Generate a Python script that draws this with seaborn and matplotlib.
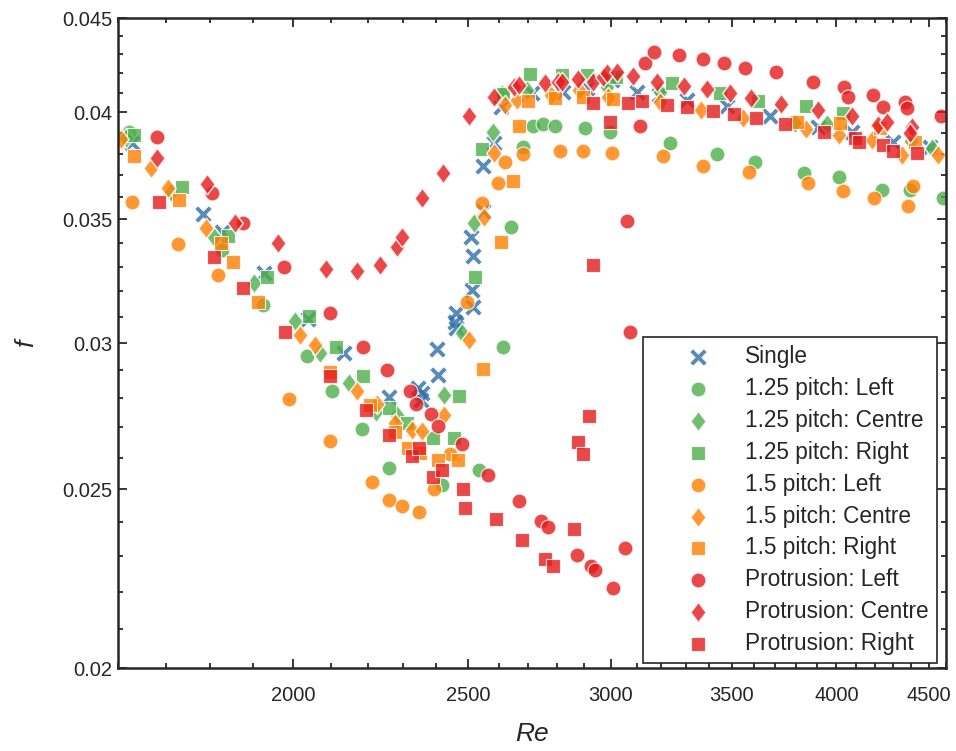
import matplotlib
matplotlib.use('Agg')
import matplotlib.pyplot as plt
from matplotlib.path import Path
from matplotlib.ticker import FixedLocator, FixedFormatter, NullFormatter
import seaborn as sns
import pandas as pd

# --- data (Re, f) ---
single_re = [1629, 1784, 1827, 1928, 2039, 2135, 2262, 2347, 2359, 2355, 2402, 2407, 2462, 2459, 2462,
             2510, 2515, 2512, 2517, 2548, 2550, 2583, 2607, 2713, 2823, 2910, 3003, 3101, 3189, 3305,
             3478, 3676, 3907, 4079, 4302, 4506]
single_f = [0.0385, 0.03524, 0.03447, 0.03273, 0.03092, 0.02962, 0.02806, 0.02836, 0.02818, 0.02795,
            0.02977, 0.02883, 0.03114, 0.03081, 0.03056, 0.03423, 0.03345, 0.03205, 0.03137, 0.03742,
            0.03535, 0.0385, 0.04029, 0.04096, 0.04105, 0.04122, 0.04165, 0.04105, 0.04088, 0.04063,
            0.04033, 0.03982, 0.0393, 0.03902, 0.03857, 0.03833]

p125_left_re = [1622, 1827, 1926, 2036, 2102, 2184, 2261, 2420, 2534, 2615, 2641, 2681, 2718, 2751,
                2793, 2904, 2996, 3233, 3434, 3605, 3840, 4012, 4239, 4394, 4581]
p125_left_f = [0.03905, 0.03367, 0.03146, 0.0295, 0.02826, 0.02694, 0.02568, 0.02513, 0.02561, 0.02984,
               0.03468, 0.0383, 0.03934, 0.03941, 0.03934, 0.03924, 0.03905, 0.03852, 0.03798, 0.03762,
               0.03708, 0.0369, 0.03629, 0.03629, 0.03594]

p125_centre_re = [1617, 1712, 1808, 1903, 2005, 2070, 2149, 2223, 2284, 2425, 2480, 2521, 2582, 2611,
                  2696, 2984, 3196, 3795, 3952, 4398, 4520]
p125_centre_f = [0.03875, 0.0362, 0.03423, 0.03235, 0.03084, 0.02964, 0.02854, 0.02754, 0.02743, 0.0281,
                 0.03038, 0.03486, 0.03901, 0.04093, 0.04113, 0.0413, 0.04105, 0.03949, 0.03945, 0.0386,
                 0.03826]

p125_right_re = [1634, 1736, 1840, 1934, 2042, 2113, 2188, 2261, 2314, 2390, 2455, 2472, 2524, 2546,
                 2615, 2707, 2820, 2910, 3020, 3245, 3446, 3620, 3850, 4032]
p125_right_f = [0.03889, 0.03644, 0.03429, 0.03259, 0.03103, 0.02984, 0.02879, 0.02766, 0.02714, 0.02664,
                0.02664, 0.02809, 0.03258, 0.03822, 0.04095, 0.04196, 0.04189, 0.04189, 0.04183, 0.04148,
                0.04096, 0.04058, 0.0403, 0.03996]

p15_left_re = [1629, 1727, 1818, 1990, 2097, 2211, 2261, 2299, 2350, 2395, 2444, 2496, 2545, 2597,
               2621, 2681, 2811, 2897, 3003, 3207, 3373, 3578, 3858, 4032, 4199, 4385, 4408]
p15_left_f = [0.03576, 0.03393, 0.03266, 0.02798, 0.02656, 0.02523, 0.02467, 0.02449, 0.02431, 0.02499,
              0.02613, 0.03159, 0.03572, 0.03662, 0.03759, 0.03798, 0.03814, 0.03814, 0.03804, 0.03789,
              0.03743, 0.03715, 0.03665, 0.03627, 0.03594, 0.0356, 0.03647]

p15_centre_re = [1606, 1669, 1705, 1790, 2017, 2058, 2170, 2227, 2278, 2327, 2357, 2425, 2503, 2553,
                 2583, 2621, 2660, 2778, 2879, 2990, 3196, 3367, 3552, 3850, 4012, 4185, 4348, 4555]
p15_centre_f = [0.0387, 0.03731, 0.0364, 0.03462, 0.03031, 0.02993, 0.02826, 0.0278, 0.02714, 0.02692,
                0.02688, 0.02741, 0.03011, 0.03512, 0.03804, 0.04037, 0.04063, 0.04088, 0.04113, 0.04079,
                0.04054, 0.04012, 0.03971, 0.03917, 0.03889, 0.03865, 0.03793, 0.03793]

p15_right_re = [1634, 1730, 1825, 1853, 1912, 2097, 2206, 2278, 2317, 2351, 2407, 2468, 2549, 2608,
                2648, 2667, 2699, 2793, 2897, 3009, 3803, 4020, 4229, 4423]
p15_right_f = [0.03786, 0.03587, 0.034, 0.03321, 0.03159, 0.02895, 0.02777, 0.02686, 0.02631, 0.02616,
               0.02593, 0.02593, 0.02903, 0.03402, 0.03673, 0.03934, 0.04059, 0.04072, 0.0408, 0.04067,
               0.03954, 0.03946, 0.03922, 0.03857]

prot_left_re = [1681, 1804, 1876, 1978, 2096, 2188, 2255, 2322, 2340, 2384, 2407, 2480, 2565, 2667,
                2745, 2770, 2875, 2925, 2941, 3009, 3055, 3062, 3075, 3114, 3132, 3169, 3272, 3373,
                3466, 3560, 3703, 3880, 4037, 4059, 4190, 4244, 4367, 4376, 4571]
prot_left_f = [0.03878, 0.03617, 0.03484, 0.03298, 0.03116, 0.02984, 0.02901, 0.02826, 0.0278, 0.02746,
               0.02705, 0.02646, 0.02545, 0.02462, 0.02404, 0.02386, 0.02303, 0.02272, 0.02259, 0.0221,
               0.02324, 0.03492, 0.03042, 0.03934, 0.04256, 0.04315, 0.04297, 0.04274, 0.04256, 0.04226,
               0.04206, 0.04156, 0.0413, 0.04076, 0.04088, 0.04029, 0.04054, 0.04021, 0.03982]

prot_centre_re = [1681, 1793, 1857, 1963, 2086, 2171, 2236, 2284, 2297, 2357, 2422, 2502, 2583, 2651,
                  2670, 2759, 2805, 2817, 2877, 2934, 2971, 2984, 3023, 3085, 3182, 3294, 3390, 3493,
                  3586, 3728, 3907, 4079, 4220, 4269, 4402, 4393]
prot_centre_f = [0.03778, 0.03658, 0.03484, 0.034, 0.03291, 0.03284, 0.03307, 0.03382, 0.03425, 0.03596,
                 0.03708, 0.03982, 0.04079, 0.0413, 0.04139, 0.04148, 0.04156, 0.04156, 0.04168, 0.04156,
                 0.04182, 0.042, 0.04208, 0.04186, 0.04156, 0.04134, 0.04117, 0.041, 0.04071, 0.04042,
                 0.04012, 0.03982, 0.03938, 0.03954, 0.0393, 0.03897]

prot_right_re = [1685, 1809, 1876, 1979, 2097, 2195, 2261, 2327, 2350, 2390, 2418, 2485, 2491, 2590,
                 2680, 2759, 2785, 2862, 2877, 2895, 2918, 2932, 2932, 2996, 3068, 3122, 3223, 3308,
                 3416, 3508, 3610, 3745, 3935, 4095, 4118, 4246, 4302, 4435]
prot_right_f = [0.03576, 0.03338, 0.03212, 0.0304, 0.02879, 0.0276, 0.02675, 0.02604, 0.02631, 0.02538,
                0.02561, 0.025, 0.02443, 0.02408, 0.02347, 0.02291, 0.0227, 0.02379, 0.0265, 0.02613,
                0.0274, 0.03307, 0.04049, 0.03954, 0.04049, 0.04058, 0.04037, 0.04026, 0.04009, 0.03991,
                0.03974, 0.03941, 0.03905, 0.03873, 0.03857, 0.03842, 0.03814, 0.03804]

labels = ['Single', '1.25 pitch: Left', '1.25 pitch: Centre', '1.25 pitch: Right',
          '1.5 pitch: Left', '1.5 pitch: Centre', '1.5 pitch: Right',
          'Protrusion: Left', 'Protrusion: Centre', 'Protrusion: Right']
re_values = [single_re, p125_left_re, p125_centre_re, p125_right_re, p15_left_re, p15_centre_re,
             p15_right_re, prot_left_re, prot_centre_re, prot_right_re]
f_values = [single_f, p125_left_f, p125_centre_f, p125_right_f, p15_left_f, p15_centre_f,
            p15_right_f, prot_left_f, prot_centre_f, prot_right_f]

x_ticks = [2000, 2500, 3000, 3500, 4000, 4500]
y_ticks = [0.02, 0.025, 0.03, 0.035, 0.04, 0.045]

# --- styling ---
blue, green, orange, red = '#2f6ea6', '#4daf4a', '#ff7f00', '#e41a1c'
diamond = Path([(0, 1), (0.76, 0), (0, -1), (-0.76, 0), (0, 1)],
               [Path.MOVETO, Path.LINETO, Path.LINETO, Path.LINETO, Path.CLOSEPOLY])
styles = [
    (blue, 'x', 95),
    (green, 'o', 115), (green, diamond, 215), (green, 's', 105),
    (orange, 'o', 115), (orange, diamond, 215), (orange, 's', 105),
    (red, 'o', 115), (red, diamond, 215), (red, 's', 105),
]

sns.set_style('ticks')
plt.rcParams['font.family'] = ['Liberation Sans', 'DejaVu Sans']

fig = plt.figure(figsize=(9.56, 7.51), dpi=100)
ax = fig.add_axes([118 / 956, 1 - 668 / 751, 828 / 956, 650 / 751])

for name, xs, ys, (col, mk, s) in zip(labels, re_values, f_values, styles):
    df = pd.DataFrame({'Re': xs, 'f': ys})
    kw = dict(linewidth=2.8) if mk == 'x' else {}
    sns.scatterplot(data=df, x='Re', y='f', color=col, marker=mk, s=s, alpha=0.8,
                    label=name, ax=ax, **kw)

ax.set_xscale('log')
ax.set_yscale('log')
ax.set_xlim(1600, 4600)
ax.set_ylim(0.02, 0.045)

ax.xaxis.set_major_locator(FixedLocator(x_ticks))
ax.xaxis.set_major_formatter(FixedFormatter([str(t) for t in x_ticks]))
ax.xaxis.set_minor_locator(FixedLocator([r for r in range(1600, 4700, 100) if r not in x_ticks]))
ax.xaxis.set_minor_formatter(NullFormatter())
ax.yaxis.set_major_locator(FixedLocator(y_ticks))
ax.yaxis.set_major_formatter(FixedFormatter([f'{t:g}' for t in y_ticks]))
ax.yaxis.set_minor_locator(FixedLocator([v / 1000 for v in range(20, 46) if v % 5]))
ax.yaxis.set_minor_formatter(NullFormatter())

ax.tick_params(which='both', direction='in', top=True, right=True, width=1.3,
               color='#262626', labelsize=14.5, labelcolor='#262626')
ax.tick_params(which='major', length=6.5)
ax.tick_params(axis='x', which='major', pad=13)
ax.tick_params(axis='y', which='major', pad=4)
ax.tick_params(which='minor', length=3.5)
for sp in ax.spines.values():
    sp.set_linewidth(1.8)
    sp.set_color('#262626')

ax.set_xlabel('Re', fontsize=19, style='italic', color='#262626', labelpad=12)
ax.set_ylabel('f', fontsize=19, style='italic', color='#262626', labelpad=17)

leg = ax.legend(loc='lower right', bbox_to_anchor=(0.989, 0.008), borderaxespad=0,
                fontsize=16.3, frameon=True, fancybox=False, edgecolor='#262626', framealpha=1,
                handlelength=4.15, handletextpad=0.0, labelspacing=0.39, borderpad=0.35)
leg.get_frame().set_linewidth(1.2)

fig.savefig('out.png', dpi=100)
